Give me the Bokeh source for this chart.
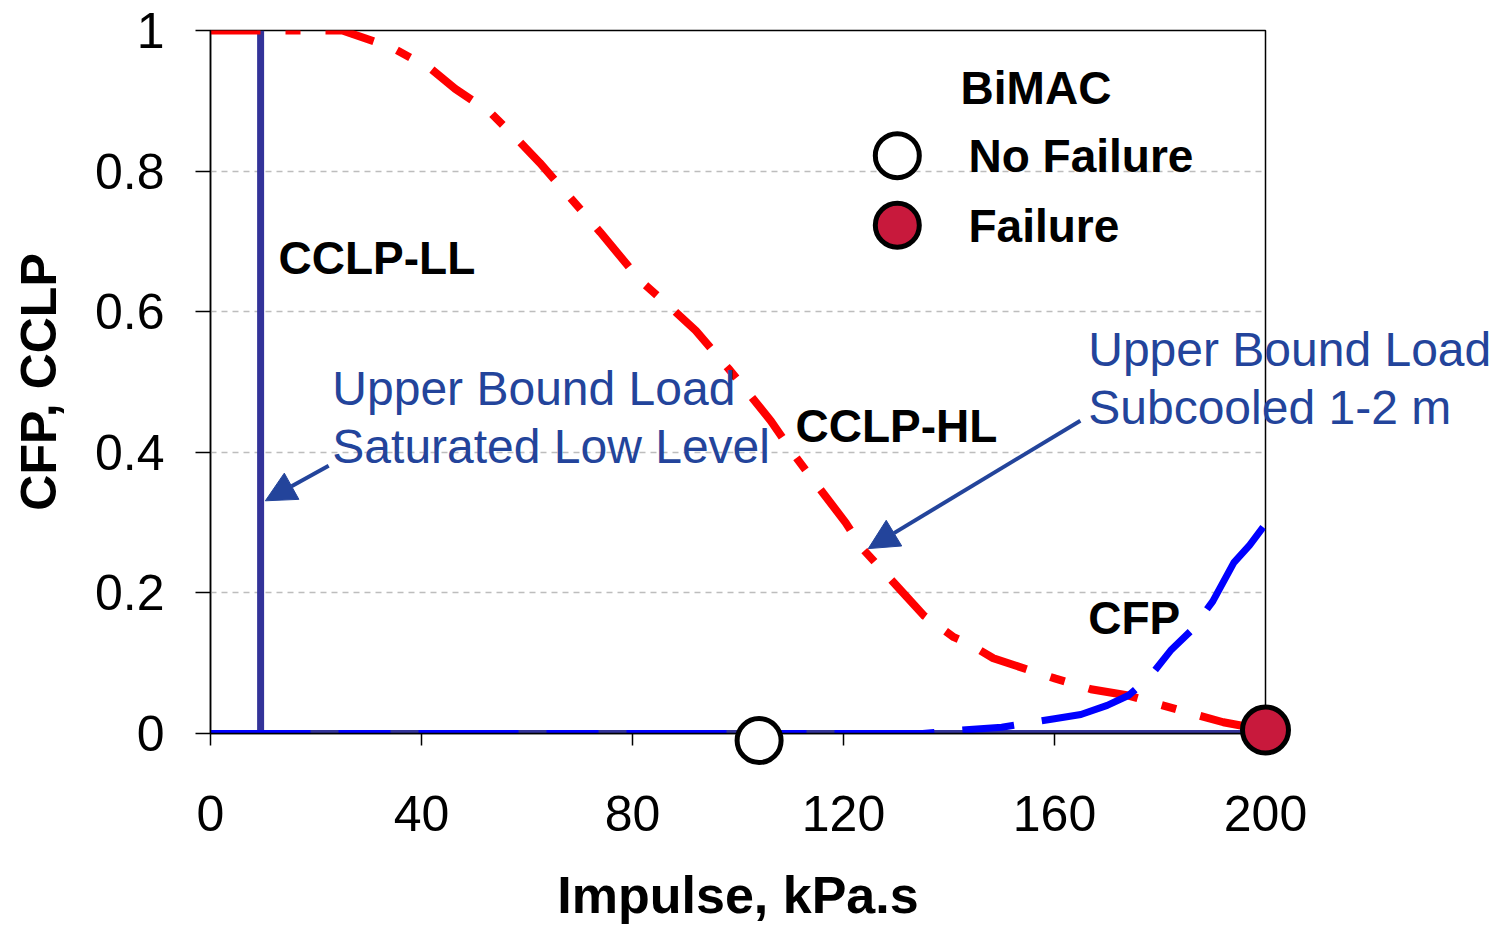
from bokeh.plotting import figure
from bokeh.models import Arrow, NormalHead, FixedTicker, Range1d
from bokeh.core.properties import value
from bokeh.embed import file_html
from bokeh.resources import INLINE

# ---------------- data ----------------
x_ticks = [0, 40, 80, 120, 160, 200]
y_ticks = [0, 0.2, 0.4, 0.6, 0.8, 1.0]
y_tick_labels = ["0", "0.2", "0.4", "0.6", "0.8", "1"]

# CCLP-LL (upper bound load, saturated low level) - step at ~10 kPa.s
ll_x = [9.5, 9.5, 200]
ll_y = [1.0, 0.0, 0.0]
ll_base_x = [0, 9.5]
ll_base_y = [0.0, 0.0]

# CCLP-HL curve
hl_x = [0, 25, 34.3, 41.7, 46.4, 53.1, 57.4, 62.4, 66.7, 73.9, 81.5, 86.8, 92.0,
        98.2, 100.5, 106.2, 110.3, 114.7, 120.4, 123.6, 131.8, 135.2, 140.9,
        143.7, 148.4, 160.2, 166.9, 174.0, 185.2, 192.0, 200]
hl_y = [1.0, 1.0, 0.976, 0.946, 0.917, 0.883, 0.851, 0.812, 0.775, 0.713, 0.644,
        0.609, 0.573, 0.519, 0.498, 0.445, 0.400, 0.356, 0.300, 0.263, 0.196,
        0.168, 0.137, 0.128, 0.107, 0.078, 0.063, 0.054, 0.030, 0.016, 0.005]

# CFP curve
cfp_x = [0, 135, 141, 150, 155, 160, 165, 170, 174, 178, 182, 186, 190, 194, 197, 200]
cfp_y = [0, 0, 0.004, 0.009, 0.015, 0.021, 0.027, 0.040, 0.054, 0.080, 0.118,
         0.147, 0.188, 0.243, 0.268, 0.298]

# BiMAC tests
nofail_x = [104]
nofail_y = [-0.01]
fail_x = [200]
fail_y = [0.005]

# ---------------- styling ----------------
FONT = "Liberation Sans"
NAVY = "#333399"
TXT_BLUE = "#23449B"
CRIMSON = "#C8193C"

W, H = 1492, 928
p = figure(width=W, height=H, output_backend="svg", toolbar_location=None,
           x_range=Range1d(0, 200), y_range=Range1d(0, 1),
           min_border_left=210, min_border_right=W - 1265,
           min_border_top=30, min_border_bottom=H - 733)
p.background_fill_color = "white"
p.border_fill_color = "white"
p.outline_line_color = "black"
p.outline_line_width = 1.5
p.outline_line_alpha = 1.0

p.xgrid.visible = False
p.ygrid.ticker = FixedTicker(ticks=[0.2, 0.4, 0.6, 0.8])
p.ygrid.grid_line_color = "#BDBDBD"
p.ygrid.grid_line_dash = "6 5"
p.ygrid.grid_line_width = 1.5

p.xaxis.ticker = FixedTicker(ticks=x_ticks)
p.yaxis.ticker = FixedTicker(ticks=y_ticks)
p.yaxis.major_label_overrides = {t: l for t, l in zip(y_ticks, y_tick_labels)}

for ax in (p.xaxis[0], p.yaxis[0]):
    ax.axis_line_color = "black"
    ax.axis_line_width = 1.5
    ax.major_tick_line_color = "black"
    ax.major_tick_line_width = 1.5
    ax.major_tick_in = 0
    ax.minor_tick_line_color = None
    ax.major_label_text_font = FONT
    ax.major_label_text_font_size = "50px"
    ax.major_label_text_color = "black"
    ax.axis_label_text_font = FONT
    ax.axis_label_text_font_style = "bold"
    ax.axis_label_text_color = "black"

p.xaxis.axis_label_text_font_size = "52px"
p.yaxis.axis_label_text_font_size = "50px"
p.xaxis.major_tick_out = 12
p.yaxis.major_tick_out = 15
p.xaxis.major_label_standoff = 50
p.yaxis.major_label_standoff = 31
p.xaxis.axis_label = "Impulse, kPa.s"
p.yaxis.axis_label = "CFP, CCLP"
p.xaxis.axis_label_standoff = 32
p.yaxis.axis_label_standoff = 25

# ---------------- lines ----------------
p.line(ll_base_x, ll_base_y, line_color=NAVY, line_width=7)
p.line(ll_x, ll_y, line_color=NAVY, line_width=7)
p.line(hl_x, hl_y, line_color="#FF0000", line_width=8, line_dash="50 25 15 25")
p.line(cfp_x, cfp_y, line_color="#0000FF", line_width=7, line_dash="100 28 52 28")

# ---------------- points ----------------
r1 = p.scatter(nofail_x, nofail_y, size=44, marker="circle", fill_color="white",
               line_color="black", line_width=5)
r2 = p.scatter(fail_x, fail_y, size=46, marker="circle", fill_color=CRIMSON,
               line_color="black", line_width=5)
r1.level = "overlay"
r2.level = "overlay"

# legend (drawn manually)
p.scatter([130.2], [0.822], size=44, marker="circle", fill_color="white",
          line_color="black", line_width=5)
p.scatter([130.2], [0.723], size=44, marker="circle", fill_color=CRIMSON,
          line_color="black", line_width=5)


def lab(x, y, text, color="black", bold=True, size="46px"):
    r = p.text(x=[x], y=[y], text=[text], text_font=value(FONT), text_font_size=value(size),
               text_font_style="bold" if bold else "normal",
               text_color=color, text_align="left", text_baseline="middle")
    r.level = "overlay"


lab(142.2, 0.9175, "BiMAC")
lab(143.7, 0.822, "No Failure")
lab(143.7, 0.722, "Failure")
lab(12.9, 0.676, "CCLP-LL")
lab(110.9, 0.438, "CCLP-HL")
lab(166.4, 0.165, "CFP")
lab(23.1, 0.491, "Upper Bound Load", TXT_BLUE, False, "48px")
lab(23.1, 0.408, "Saturated Low Level", TXT_BLUE, False, "48px")
lab(166.4, 0.546, "Upper Bound Load", TXT_BLUE, False, "48px")
lab(166.4, 0.464, "Subcooled 1-2 m", TXT_BLUE, False, "48px")

# arrows
for xs, ys, xe, ye in [(22.4, 0.381, 10.4, 0.331), (164.9, 0.445, 124.7, 0.263)]:
    p.add_layout(Arrow(end=NormalHead(size=30, fill_color=TXT_BLUE, line_color=TXT_BLUE),
                       x_start=xs, y_start=ys, x_end=xe, y_end=ye,
                       line_color=TXT_BLUE, line_width=4))

open("out.html", "w").write(file_html(p, INLINE))
